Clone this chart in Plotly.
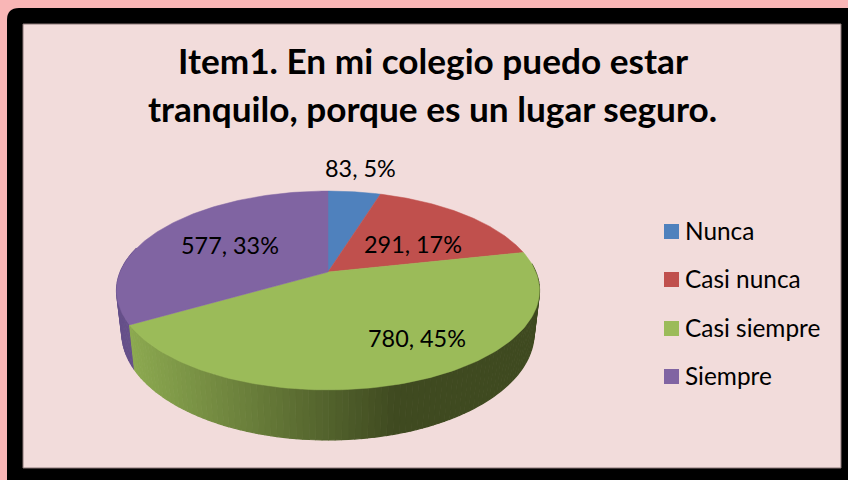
import numpy as np
import plotly.graph_objects as go

categories = ["Nunca", "Casi nunca", "Casi siempre", "Siempre"]
values = [83, 291, 780, 577]
percent_labels = ["5%", "17%", "45%", "33%"]
colors = ["#4F81BD", "#C0504D", "#9BBB59", "#8064A2"]
title_lines = ["Item1. En mi colegio puedo estar", "tranquilo, porque es un lugar seguro."]
label_xy = [(360, 168), (413, 244), (417, 338), (230, 245)]
legend_y = [231.5, 279.5, 328.5, 376.5]

# projected-disc geometry, in pixels
CX, CY, AX, BY, K, DEPTH, SHRINK = 328, 272, 207.8, 96, 0.186, 40.7, 0.975
FONT = "Lato"


def top(t):
    w = 1 + K * np.cos(t)
    return CX + AX * np.sin(t) / w, CY - BY * np.cos(t) / w


def bottom(t):
    x, y = top(t)
    return CX + SHRINK * (x - CX), y + DEPTH / (1 + K * np.cos(t))


def mix(c1, c2, f):
    a = [int(c1[i:i + 2], 16) for i in (1, 3, 5)]
    b = [int(c2[i:i + 2], 16) for i in (1, 3, 5)]
    return "rgb(%d,%d,%d)" % tuple(round(p + (q - p) * f) for p, q in zip(a, b))


fracs = np.array(values) / sum(values)
edges = np.concatenate([[0], np.cumsum(fracs)]) * 2 * np.pi

fig = go.Figure()

# side wall, in thin strips so that the shading can vary
for i in [3, 1, 2]:
    lo, hi = edges[i], edges[i + 1]
    lo_vis, hi_vis = max(lo, np.radians(85)), min(hi, np.radians(285))
    if hi_vis <= lo_vis:
        continue
    n = max(2, int((hi_vis - lo_vis) / np.radians(1.5)))
    ts = np.linspace(lo_vis, hi_vis, n + 1)
    for a, b in zip(ts[:-1], ts[1:]):
        seg = np.linspace(a, b, 3)
        tx, ty = top(seg)
        bx, by = bottom(seg[::-1])
        xm = top((a + b) / 2)[0]
        f = np.clip((xm - 130) / (395 - 130), 0, 1)
        if i == 2:
            col = mix("#8CA950", "#3F4A20", f)
        elif i == 3:
            col = "#66508A"
        else:
            col = "#7A302E"
        fig.add_trace(go.Scatter(
            x=np.r_[tx, bx], y=np.r_[ty, by], mode="lines", fill="toself",
            fillcolor=col, line=dict(color=col, width=1.2),
            hoverinfo="skip", showlegend=False))

# top faces
for i, cat in enumerate(categories):
    ts = np.linspace(edges[i], edges[i + 1], 120)
    ex, ey = top(ts)
    fig.add_trace(go.Scatter(
        x=np.r_[CX, ex, CX], y=np.r_[CY, ey, CY], mode="lines", fill="toself",
        fillcolor=colors[i], line=dict(color=colors[i], width=0.5),
        name=cat, showlegend=False, hoverinfo="name"))

# legend swatches
fig.add_trace(go.Scatter(
    x=[671.5] * len(categories), y=legend_y, mode="markers",
    marker=dict(symbol="square", size=15, color=colors),
    hoverinfo="skip", showlegend=False))

annotations = [
    dict(x=683, y=y - 1.5, text=c, showarrow=False, xanchor="left", yanchor="middle",
         font=dict(family=FONT, size=24.4, color="#000000"))
    for c, y in zip(categories, legend_y)
]
annotations += [
    dict(x=x, y=y, text=f"{v}, {p}", showarrow=False, xanchor="center", yanchor="middle",
         font=dict(family=FONT, size=23.4, color="#000000"))
    for (x, y), v, p in zip(label_xy, values, percent_labels)
]
annotations += [
    dict(x=432.5, y=y, text=f"<b>{t}</b>", showarrow=False, xanchor="center", yanchor="middle",
         font=dict(family=FONT, size=35.2, color="#000000"))
    for t, y in zip(title_lines, [59.5, 107.5])
]

shapes = [
    dict(type="path", path="M7,20 Q7,8 19,8 L860,8 L860,490 L7,490 Z",
         fillcolor="#000000", line=dict(width=0), layer="below"),
    dict(type="rect", x0=23, y0=24, x1=841, y1=468, fillcolor="#F2DCDB",
         line=dict(color="#8A7676", width=1), layer="below"),
]

fig.update_layout(
    width=848, height=480, margin=dict(l=0, r=0, t=0, b=0), autosize=False,
    paper_bgcolor="#F9B6B6", plot_bgcolor="rgba(0,0,0,0)", showlegend=False,
    xaxis=dict(range=[0, 848], visible=False, fixedrange=True),
    yaxis=dict(range=[480, 0], visible=False, fixedrange=True),
    annotations=annotations, shapes=shapes,
)
fig.write_html("out.html", config={"displayModeBar": False},
               post_script="document.body.style.margin='0';document.body.style.overflow='hidden';")
